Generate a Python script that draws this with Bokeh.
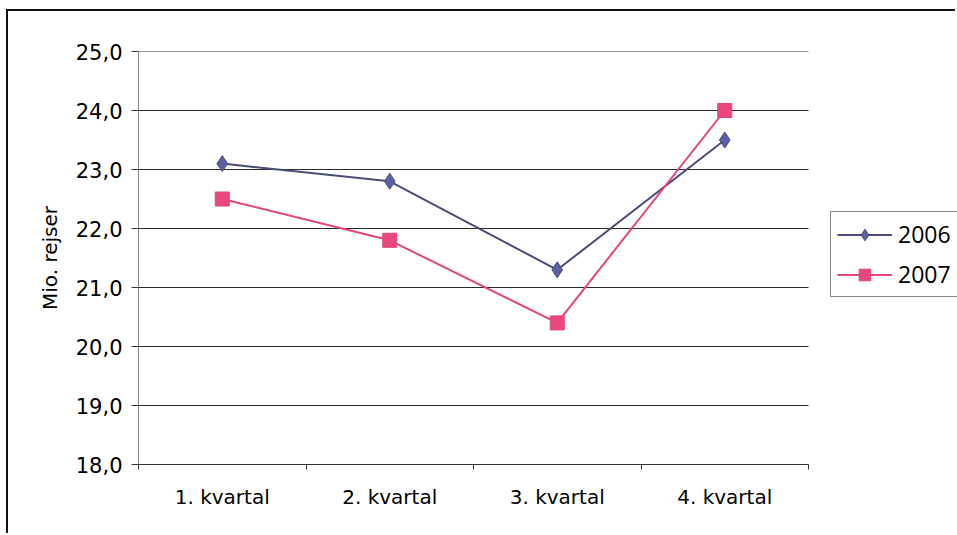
from bokeh.plotting import figure
from bokeh.models import FixedTicker, Legend, LegendItem
from bokeh.embed import file_html
from bokeh.resources import INLINE

# ---- data ----
quarters = ["1. kvartal", "2. kvartal", "3. kvartal", "4. kvartal"]
series_2006 = [23.1, 22.8, 21.3, 23.5]
series_2007 = [22.5, 21.8, 20.4, 24.0]
y_ticks = [18, 19, 20, 21, 22, 23, 24, 25]
y_tick_labels = ["18,0", "19,0", "20,0", "21,0", "22,0", "23,0", "24,0", "25,0"]
y_label = "Mio. rejser"
series_names = ["2006", "2007"]

n = len(quarters)
x = list(range(1, n + 1))
boundaries = [i + 0.5 for i in range(0, n + 1)]

FONT = "DejaVu Sans"

# layout (pixels)
W, H = 949, 524
LEFT, TOP, BOTTOM = 130, 40, 71
CAT_AREA = 670          # width of the category area; the rest on the right holds the legend
frame_w = W - LEFT
x_end = 0.5 + n * frame_w / CAT_AREA

p = figure(
    width=W, height=H,
    output_backend="svg", toolbar_location=None,
    x_range=(0.5, x_end), y_range=(y_ticks[0], y_ticks[-1]),
    min_border_left=LEFT, min_border_top=TOP, min_border_right=0, min_border_bottom=BOTTOM,
    background_fill_color="white", border_fill_color="white",
)
p.outline_line_color = None
p.styles = {
    "margin-left": "6px", "margin-top": "9px",
    "border-top": "2px solid #111111", "border-left": "2px solid #111111",
}

# x axis
xa = p.xaxis[0]
xa.bounds = (0.5, n + 0.5)
xa.ticker = FixedTicker(ticks=x, minor_ticks=boundaries)
xa.major_label_overrides = {xi: q for xi, q in zip(x, quarters)}
xa.major_tick_out = 0
xa.major_tick_in = 0
xa.minor_tick_out = 5
xa.minor_tick_in = 0
xa.minor_tick_line_color = "#333333"
xa.axis_line_color = "#333333"
xa.major_label_text_font = FONT
xa.major_label_text_font_size = "20px"
xa.major_label_text_color = "black"
xa.major_label_standoff = 15

# y axis
ya = p.yaxis[0]
ya.ticker = FixedTicker(ticks=y_ticks, minor_ticks=[])
ya.major_label_overrides = {t: l for t, l in zip(y_ticks, y_tick_labels)}
ya.major_tick_out = 7
ya.major_tick_in = 0
ya.major_tick_line_color = "#333333"
ya.axis_line_color = "#888888"
ya.major_label_text_font = FONT
ya.major_label_text_font_size = "21px"
ya.major_label_text_color = "black"
ya.major_label_standoff = 9
ya.axis_label = y_label
ya.axis_label_text_font = FONT
ya.axis_label_text_font_size = "20px"
ya.axis_label_text_font_style = "normal"
ya.axis_label_text_color = "black"
ya.axis_label_standoff = 11

# horizontal gridlines limited to the category area
p.xgrid.visible = False
p.ygrid.visible = False
p.segment(x0=[0.5] * len(y_ticks), y0=y_ticks, x1=[n + 0.5] * len(y_ticks), y1=y_ticks,
          line_color="#2a2a2a", line_width=1)

# series
c06_line, c06_mark = "#4a4c78", "#5b60a4"
c07_line, c07_mark = "#e4437b", "#e8487f"

l06 = p.line(x, series_2006, line_color=c06_line, line_width=2)
m06 = p.scatter(x, series_2006, marker="diamond", size=16,
                fill_color=c06_mark, line_color=c06_line, line_width=1)
l07 = p.line(x, series_2007, line_color=c07_line, line_width=2)
m07 = p.scatter(x, series_2007, marker="square", size=14,
                fill_color=c07_mark, line_color=c07_line, line_width=1)

legend = Legend(
    items=[LegendItem(label=series_names[0], renderers=[l06, m06]),
           LegendItem(label=series_names[1], renderers=[l07, m07])],
    location=(692, 167),
    orientation="vertical",
    glyph_width=55, glyph_height=29, label_height=29, label_width=80,
    spacing=8, padding=6, margin=0, label_standoff=6,
    label_text_font="Open Sans", label_text_font_size="23px", label_text_color="black",
    border_line_color="#111111", border_line_width=1.5,
    background_fill_color="white", background_fill_alpha=1,
)
p.add_layout(legend)

open("out.html", "w").write(file_html(p, INLINE))
